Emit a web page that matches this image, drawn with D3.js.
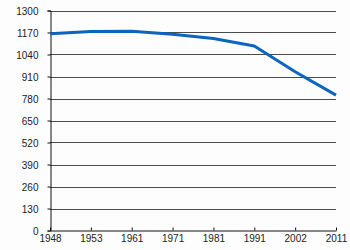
<!DOCTYPE html>
<html>
<head>
<meta charset="utf-8">
<script src="https://cdn.jsdelivr.net/npm/d3@7"></script>
<style>
  html, body { margin: 0; padding: 0; background: #fdfdfd; }
  svg { display: block; }
  text { font-family: "Liberation Sans", Arial, sans-serif; font-size: 10px; fill: #222; }
</style>
</head>
<body>
<svg id="chart" width="350" height="250"></svg>
<script>
const years = ["1948", "1953", "1961", "1971", "1981", "1991", "2002", "2011"];
const population = [1163, 1176, 1177, 1160, 1134, 1090, 938, 800];
const yTicks = [0, 130, 260, 390, 520, 650, 780, 910, 1040, 1170, 1300];

const svg = d3.select("#chart");
const plotLeft = 50, plotRight = 336, plotTop = 10.5, plotBottom = 230.5;

const x = d3.scalePoint().domain(years).range([plotLeft, plotRight]).padding(0);
const y = d3.scaleLinear().domain([0, 1300]).range([plotBottom, plotTop]);

// gridlines
svg.append("g")
  .selectAll("line")
  .data(yTicks.filter(d => d > 0))
  .join("line")
  .attr("x1", plotLeft).attr("x2", plotRight)
  .attr("y1", d => Math.round(y(d)) + 0.5).attr("y2", d => Math.round(y(d)) + 0.5)
  .attr("stroke", "#4a4a4a").attr("stroke-width", 1);

// y axis
const yAxis = svg.append("g")
  .attr("transform", `translate(${plotLeft + 0.5},0)`)
  .call(d3.axisLeft(y).tickValues(yTicks).tickSize(3).tickPadding(9).tickFormat(d3.format("d")));
yAxis.select(".domain").attr("stroke", "#111");
yAxis.selectAll(".tick line").attr("stroke", "#111");
yAxis.selectAll(".tick text").attr("dy", "0.35em");

// x axis
const xAxis = svg.append("g")
  .attr("transform", `translate(0,${Math.round(plotBottom) - 0.5})`)
  .call(d3.axisBottom(x).tickSizeInner(-3).tickSizeOuter(0).tickPadding(3));
xAxis.select(".domain").attr("stroke", "#111");
xAxis.selectAll(".tick line").attr("stroke", "#111");
xAxis.selectAll(".tick text").attr("dy", "0.71em").attr("y", 4);

// line
const line = d3.line()
  .x((d, i) => x(years[i]))
  .y(d => y(d));

svg.append("path")
  .datum(population)
  .attr("d", line)
  .attr("fill", "none")
  .attr("stroke", "#0a64c0")
  .attr("stroke-width", 3)
  .attr("stroke-linejoin", "round");
</script>
</body>
</html>
